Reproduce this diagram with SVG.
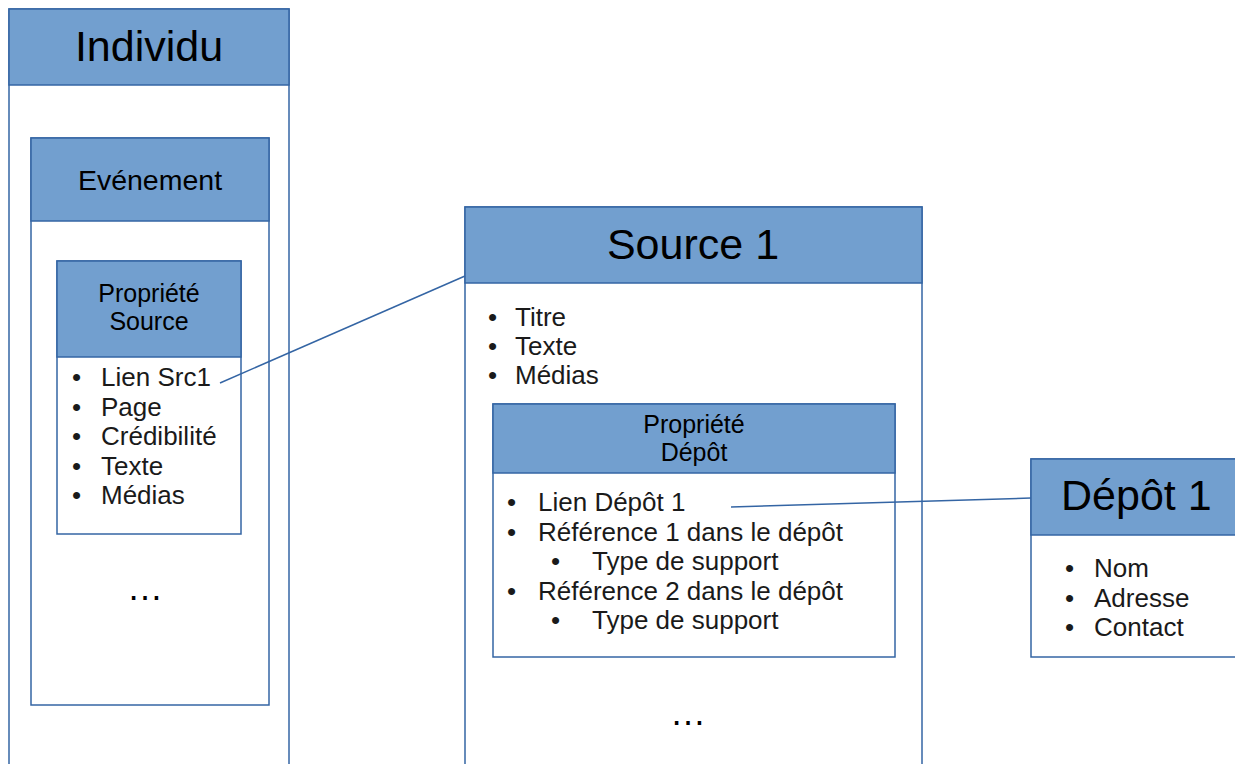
<svg xmlns="http://www.w3.org/2000/svg" width="1235" height="764" viewBox="0 0 1235 764">
<style>
.box{fill:#ffffff;stroke:#3465a4;stroke-width:1.5}
.hdr{fill:#729fcf;stroke:#3465a4;stroke-width:1.5}
text{font-family:"Liberation Sans",Arial,sans-serif;fill:#000}
.t43{font-size:43px}
.t28{font-size:28.5px}
.t25{font-size:25px}
.li{font-size:26px;fill:#1a1a1a}
.dots{font-size:36px}
.c{text-anchor:middle}
.conn{stroke:#3465a4;stroke-width:1.5;fill:none}
</style>
<rect width="1235" height="764" fill="#ffffff"/>
<g id="individu">
<rect class="box" x="9" y="9" width="280" height="770"/>
<rect class="hdr" x="9" y="9" width="280" height="76"/>
<text class="t43 c" x="149" y="61">Individu</text>
</g>
<g id="evenement">
<rect class="box" x="31" y="138" width="238" height="567"/>
<rect class="hdr" x="31" y="138" width="238" height="83"/>
<text class="t28 c" x="150" y="190">Evénement</text>
<text class="dots c" x="145" y="600">…</text>
</g>
<g id="propriete-source">
<rect class="box" x="57" y="261" width="184" height="273"/>
<rect class="hdr" x="57" y="261" width="184" height="96"/>
<text class="t25 c" x="149" y="302">Propriété</text>
<text class="t25 c" x="149" y="330">Source</text>
<text class="li" x="72" y="386">•</text><text class="li" x="101" y="386">Lien Src1</text>
<text class="li" x="72" y="416">•</text><text class="li" x="101" y="416">Page</text>
<text class="li" x="72" y="445">•</text><text class="li" x="101" y="445">Crédibilité</text>
<text class="li" x="72" y="475">•</text><text class="li" x="101" y="475">Texte</text>
<text class="li" x="72" y="504">•</text><text class="li" x="101" y="504">Médias</text>
</g>
<g id="source1">
<rect class="box" x="465" y="207" width="457" height="570"/>
<rect class="hdr" x="465" y="207" width="457" height="76"/>
<text class="t43 c" x="693" y="259">Source 1</text>
<text class="li" x="488" y="326">•</text><text class="li" x="515" y="326">Titre</text>
<text class="li" x="488" y="355">•</text><text class="li" x="515" y="355">Texte</text>
<text class="li" x="488" y="384">•</text><text class="li" x="515" y="384">Médias</text>
<text class="dots c" x="688" y="725">…</text>
</g>
<g id="propriete-depot">
<rect class="box" x="493" y="404" width="402" height="253"/>
<rect class="hdr" x="493" y="404" width="402" height="69"/>
<text class="t25 c" x="694" y="433">Propriété</text>
<text class="t25 c" x="694" y="461">Dépôt</text>
<text class="li" x="507" y="511">•</text><text class="li" x="538" y="511">Lien Dépôt 1</text>
<text class="li" x="507" y="541">•</text><text class="li" x="538" y="541">Référence 1 dans le dépôt</text>
<text class="li" x="551" y="570">•</text><text class="li" x="592" y="570">Type de support</text>
<text class="li" x="507" y="600">•</text><text class="li" x="538" y="600">Référence 2 dans le dépôt</text>
<text class="li" x="551" y="629">•</text><text class="li" x="592" y="629">Type de support</text>
</g>
<g id="depot1">
<rect class="box" x="1031" y="459" width="220" height="198"/>
<rect class="hdr" x="1031" y="459" width="220" height="76"/>
<text class="t43" x="1061" y="510">Dépôt 1</text>
<text class="li" x="1065" y="577">•</text><text class="li" x="1094" y="577">Nom</text>
<text class="li" x="1065" y="607">•</text><text class="li" x="1094" y="607">Adresse</text>
<text class="li" x="1065" y="636">•</text><text class="li" x="1094" y="636">Contact</text>
</g>
<g id="connectors">
<line class="conn" x1="220" y1="383" x2="465" y2="276"/>
<line class="conn" x1="731" y1="507" x2="1031" y2="498"/>
</g>
</svg>
